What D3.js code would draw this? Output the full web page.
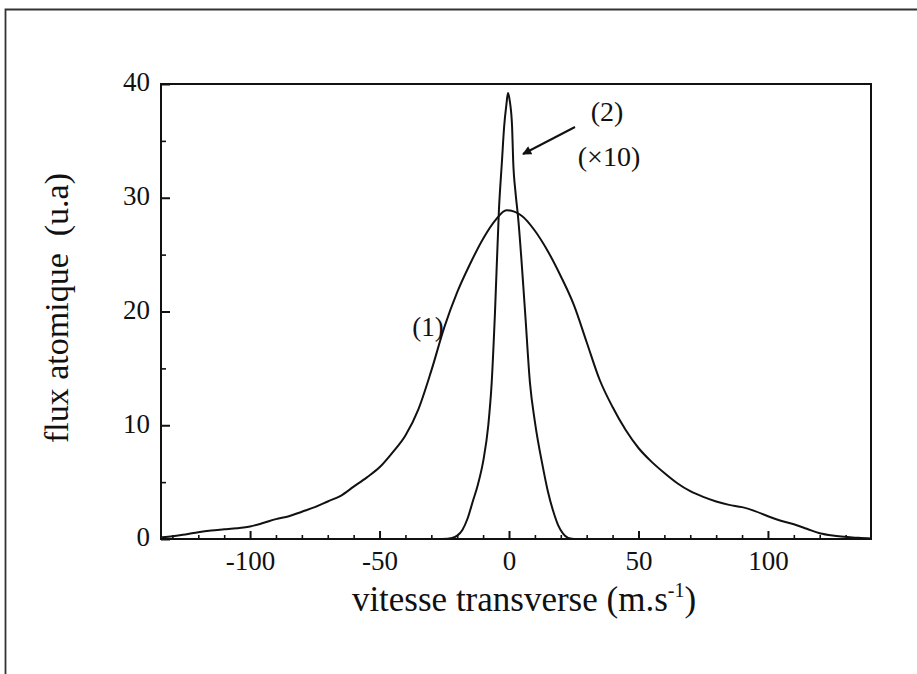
<!DOCTYPE html>
<html>
<head>
<meta charset="utf-8">
<script src="https://cdn.jsdelivr.net/npm/d3@7"></script>
<style>
  html, body { margin: 0; padding: 0; background: #fff; }
  svg { display: block; }
  text { font-family: "Liberation Serif", "DejaVu Serif", serif; fill: #111; }
</style>
</head>
<body>
<svg id="chart" width="917" height="674"></svg>
<script>
// ---- data ----
const curve1V = [-134,-130,-125,-120,-115,-110,-105,-100,-95,-90,-85,-80,-75,-70,-65,-60,-55,-50,-45,-40,-35,-30,-25,-20,-15,-10,-5,-1,5,10,15,20,25,30,35,40,45,50,55,60,65,70,75,80,85,90,95,100,105,110,115,120,125,130,135,140];
const curve1F = [0.15,0.25,0.4,0.6,0.75,0.85,0.95,1.1,1.4,1.75,2.0,2.4,2.8,3.3,3.8,4.6,5.4,6.3,7.6,9.1,11.4,14.8,18.6,21.7,24.2,26.4,28.1,28.9,28.4,27.1,25.3,23.1,20.6,17.3,14.0,11.6,9.6,8.0,6.8,5.8,4.9,4.2,3.7,3.3,3.0,2.8,2.45,2.0,1.6,1.3,0.9,0.5,0.3,0.2,0.1,0.05];

const curve2V = [-26,-22,-20,-18,-16,-14,-12,-10,-8,-6.7,-5.4,-3.9,-2.7,-1.9,-1,-0.4,0.3,1.2,1.6,2.5,3.5,6.2,8.1,10,13.1,15,17,19,20.8,22.8,25];
const curve2F = [0,0.1,0.3,0.8,1.8,3.3,4.8,6.8,10.0,13.7,20,28.9,33.3,36.2,38.2,39.2,38.5,36.2,33.3,30.5,28.3,20,13.7,10.3,6.3,4.2,2.5,1.2,0.5,0.1,0];

const xMajorTicks = [-100,-50,0,50,100];
const xMinorTicks = [-130,-120,-110,-90,-80,-70,-60,-40,-30,-20,-10,10,20,30,40,60,70,80,90,110,120,130];
const yMajorTicks = [0,10,20,30,40];
const yMinorTicks = [5,15,25,35];

const xLabel = "vitesse transverse (m.s";
const xLabelSup = "-1";
const yLabel = "flux atomique  (u.a)";
const label1 = "(1)";
const label2a = "(2)";
const label2b = "(×10)";

// ---- layout ----
const svg = d3.select("#chart");
const L = 161, R = 871, T = 84, B = 539;
const x = d3.scaleLinear().domain([-134.4, 139.8]).range([L, R]);
const y = d3.scaleLinear().domain([0, 40]).range([B, T]);
const serif = "'Liberation Serif', 'DejaVu Serif', serif";

// outer frame (top + left lines of the scanned figure box)
svg.append("path")
  .attr("d", "M5.5,674 L5.5,9.5 L917,9.5")
  .attr("fill", "none").attr("stroke", "#333").attr("stroke-width", 1.8);

// plot box
svg.append("rect")
  .attr("x", L).attr("y", T).attr("width", R - L).attr("height", B - T)
  .attr("fill", "none").attr("stroke", "#111").attr("stroke-width", 2);

// x axis ticks (inward)
const xAxisMajor = d3.axisBottom(x).tickValues(xMajorTicks).tickSizeInner(-8).tickSizeOuter(0).tickFormat(d => String(d));
const gx = svg.append("g").attr("transform", `translate(0,${B})`).call(xAxisMajor).attr("font-family", serif);
gx.select(".domain").remove();
gx.selectAll("line").attr("stroke", "#111").attr("stroke-width", 2);
gx.selectAll("text").attr("font-size", 27).attr("fill", "#111")
  .attr("dy", "0.71em").attr("y", 12);

const xAxisMinor = d3.axisBottom(x).tickValues(xMinorTicks).tickSizeInner(-4).tickSizeOuter(0).tickFormat("");
const gxm = svg.append("g").attr("transform", `translate(0,${B})`).call(xAxisMinor);
gxm.select(".domain").remove();
gxm.selectAll("line").attr("stroke", "#111").attr("stroke-width", 1.6);

// y axis ticks (inward)
const yAxisMajor = d3.axisLeft(y).tickValues(yMajorTicks).tickSizeInner(-9).tickSizeOuter(0).tickFormat(d => String(d));
const gy = svg.append("g").attr("transform", `translate(${L},0)`).call(yAxisMajor).attr("font-family", serif);
gy.select(".domain").remove();
gy.selectAll("line").attr("stroke", "#111").attr("stroke-width", 2);
gy.selectAll("text").attr("font-size", 27).attr("fill", "#111")
  .attr("x", -11).attr("dy", "0.25em");

const yAxisMinor = d3.axisLeft(y).tickValues(yMinorTicks).tickSizeInner(-5).tickSizeOuter(0).tickFormat("");
const gym = svg.append("g").attr("transform", `translate(${L},0)`).call(yAxisMinor);
gym.select(".domain").remove();
gym.selectAll("line").attr("stroke", "#111").attr("stroke-width", 1.6);

// curves
const line = d3.line().x(d => x(d[0])).y(d => y(d[1])).curve(d3.curveMonotoneX);
const c1 = curve1V.map((v, i) => [v, curve1F[i]]);
const c2 = curve2V.map((v, i) => [v, curve2F[i]]);

svg.append("clipPath").attr("id", "clip").append("rect")
  .attr("x", L).attr("y", T).attr("width", R - L).attr("height", B - T);

svg.append("path").datum(c1).attr("d", line).attr("fill", "none")
  .attr("stroke", "#111").attr("stroke-width", 2).attr("clip-path", "url(#clip)");
svg.append("path").datum(c2).attr("d", line).attr("fill", "none")
  .attr("stroke", "#111").attr("stroke-width", 2).attr("clip-path", "url(#clip)");

// axis labels
const xl = svg.append("text").attr("x", 524).attr("y", 611).attr("text-anchor", "middle").attr("font-size", 35);
xl.append("tspan").text(xLabel);
xl.append("tspan").attr("font-size", 20).attr("dy", -14).text(xLabelSup);
xl.append("tspan").attr("dy", 14).text(")");

svg.append("text")
  .attr("transform", "translate(68,308) rotate(-90)")
  .attr("text-anchor", "middle").attr("font-size", 34)
  .style("white-space", "pre")
  .text(yLabel);

// annotations
svg.append("text").attr("x", 428).attr("y", 336).attr("text-anchor", "middle").attr("font-size", 27).text(label1);
svg.append("text").attr("x", 607).attr("y", 121).attr("text-anchor", "middle").attr("font-size", 28).text(label2a);
svg.append("text").attr("x", 609).attr("y", 166).attr("text-anchor", "middle").attr("font-size", 28).text(label2b);

// arrow
svg.append("defs").append("marker")
  .attr("id", "ah").attr("viewBox", "0 0 10 10").attr("refX", 9).attr("refY", 5)
  .attr("markerWidth", 14).attr("markerHeight", 9).attr("markerUnits", "userSpaceOnUse")
  .attr("orient", "auto")
  .append("path").attr("d", "M0,0 L10,5 L0,10 Z").attr("fill", "#111");
svg.append("line")
  .attr("x1", 575).attr("y1", 127).attr("x2", 523).attr("y2", 154)
  .attr("stroke", "#111").attr("stroke-width", 2).attr("marker-end", "url(#ah)");
</script>
</body>
</html>
